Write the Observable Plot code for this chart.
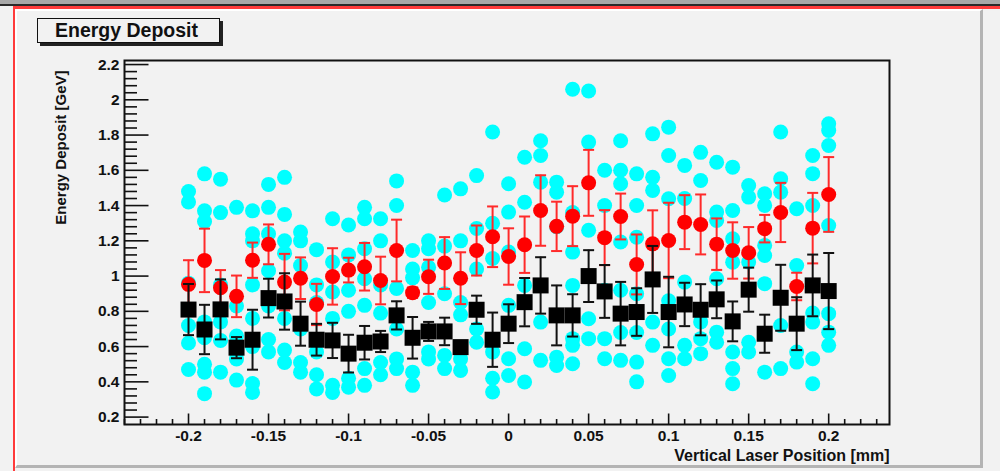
<!DOCTYPE html>
<html><head><meta charset="utf-8">
<script src="https://cdn.jsdelivr.net/npm/d3@7"></script>
<script src="https://cdn.jsdelivr.net/npm/@observablehq/plot@0.6"></script>
<style>
html,body{margin:0;padding:0;background:#f2f2f2;width:1000px;height:471px;overflow:hidden;font-family:"Liberation Sans",Arial,sans-serif;}
#topbar{position:absolute;left:0;top:0;width:1000px;height:4px;background:#a8a8a8;}
#topdark{position:absolute;left:0;top:4px;width:1000px;height:2px;background:#2a2a2a;}
#topred{position:absolute;left:13px;top:6px;width:987px;height:3px;background:#ff3b3b;}
#leftred{position:absolute;left:13px;top:6px;width:2px;height:465px;background:#ff3b3b;}
#panel{position:absolute;left:15px;top:9px;width:968px;height:459px;box-sizing:border-box;border-top:2px solid #fff;border-left:2px solid #fff;border-right:3px solid #b4b4b4;border-bottom:3px solid #b4b4b4;background:#f2f2f2;}
#chart{position:absolute;left:0;top:0;}
#title{position:absolute;left:37px;top:18px;width:164px;height:23px;border:1.5px solid #111;box-shadow:3px 3px 0 #222;background:#f2f2f2;font-weight:bold;font-size:19.5px;line-height:22px;padding-left:17px;box-sizing:content-box;color:#111;white-space:nowrap;}
</style></head>
<body>
<div id="topbar"></div><div id="topdark"></div><div id="topred"></div><div id="leftred"></div>
<div id="panel"></div>
<div id="chart"></div>
<div id="title">Energy Deposit</div>
<script>
const xPos = [-0.20,-0.19,-0.18,-0.17,-0.16,-0.15,-0.14,-0.13,-0.12,-0.11,-0.10,-0.09,-0.08,-0.07,-0.06,-0.05,-0.04,-0.03,-0.02,-0.01,0.00,0.01,0.02,0.03,0.04,0.05,0.06,0.07,0.08,0.09,0.10,0.11,0.12,0.13,0.14,0.15,0.16,0.17,0.18,0.19,0.20];
const blackY = [0.81,0.697,0.811,0.594,0.639,0.875,0.856,0.73,0.639,0.635,0.56,0.622,0.629,0.777,0.65,0.686,0.686,0.597,0.809,0.639,0.73,0.852,0.947,0.777,0.777,1.0,0.913,0.787,0.796,0.981,0.796,0.839,0.809,0.868,0.743,0.923,0.673,0.877,0.73,0.947,0.915];
const blackErr = [0.145,0.14,0.17,0.06,0.17,0.11,0.16,0.125,0.09,0.1,0.107,0.095,0.06,0.08,0.118,0.054,0.078,0.03,0.08,0.154,0.11,0.137,0.16,0.17,0.12,0.147,0.15,0.18,0.135,0.19,0.2,0.123,0.145,0.107,0.113,0.125,0.108,0.187,0.15,0.175,0.216];
const redY = [0.953,1.089,0.934,0.885,1.09,1.18,0.966,0.988,0.839,0.998,1.034,1.053,0.975,1.145,0.906,0.996,1.074,0.988,1.145,1.223,1.111,1.178,1.372,1.282,1.34,1.529,1.218,1.338,1.066,1.183,1.202,1.306,1.293,1.181,1.145,1.132,1.269,1.361,0.941,1.272,1.463];
const redErr = [0.137,0.18,0.1,0.118,0.1,0.113,0.16,0.118,0.117,0.16,0.07,0.135,0.135,0.175,0.03,0.097,0.147,0.147,0.142,0.172,0.16,0.16,0.2,0.14,0.17,0.187,0.156,0.13,0.17,0.19,0.214,0.153,0.17,0.146,0.16,0.146,0.078,0.168,0.078,0.2,0.212];
const cyanY = [
  [1.48,1.42,0.96,0.72,0.62,0.47],
  [1.58,1.37,1.31,0.74,0.65,0.50,0.455,0.333],
  [1.55,1.36,0.95,0.74,0.635,0.455],
  [1.39,0.83,0.66,0.53,0.41],
  [1.37,1.24,1.20,0.95,0.76,0.60,0.39,0.34],
  [1.52,1.39,1.24,1.03,0.83,0.64,0.57],
  [1.56,1.35,1.20,1.13,0.76,0.58,0.51],
  [1.25,1.20,1.06,0.70,0.51,0.455],
  [1.15,0.95,0.85,0.57,0.44,0.36],
  [1.325,1.08,0.91,0.76,0.38,0.34],
  [1.29,1.12,0.92,0.80,0.42,0.37],
  [1.39,1.325,1.155,0.985,0.834,0.475,0.38],
  [1.325,1.20,0.95,0.79,0.51,0.44],
  [1.54,1.40,0.93,0.70,0.53,0.475],
  [1.145,1.04,0.99,0.455,0.38],
  [1.20,1.155,1.05,0.85,0.57,0.53],
  [1.46,1.17,0.90,0.55,0.475],
  [1.495,1.20,0.85,0.78,0.53,0.465],
  [1.57,1.27,1.04,0.70,0.625],
  [1.817,1.30,1.10,0.57,0.42,0.342],
  [1.524,1.363,1.136,0.834,0.531,0.436],
  [1.674,1.419,0.947,0.588,0.399],
  [1.768,1.684,1.533,0.739,0.522],
  [1.533,1.476,1.28,0.54,0.493],
  [2.06,1.36,1.136,0.947,0.645,0.607,0.503],
  [2.05,1.76,1.26,0.758,0.645],
  [1.60,1.40,0.92,0.645,0.531],
  [1.768,1.60,1.524,1.193,0.92,0.68,0.522],
  [1.58,1.40,1.22,0.90,0.68,0.512,0.40],
  [1.807,1.56,1.486,0.739,0.607],
  [1.845,1.684,1.439,0.86,0.70,0.531,0.436],
  [1.628,1.44,0.966,0.607,0.531],
  [1.702,1.542,0.74,0.645,0.56],
  [1.646,1.363,1.316,0.985,0.682,0.625],
  [1.618,1.372,1.212,1.079,0.569,0.475,0.389],
  [1.514,1.448,1.08,0.625,0.569],
  [1.467,1.401,1.174,1.117,0.957,0.455],
  [1.817,1.552,1.476,0.72,0.475],
  [1.382,1.06,0.569,0.512],
  [1.684,1.581,1.40,0.79,0.739,0.531,0.389],
  [1.864,1.826,1.741,1.287,0.787,0.682,0.607]
];
const xTicks = [-0.2,-0.15,-0.1,-0.05,0,0.05,0.1,0.15,0.2];
const yTicks = [0.2,0.4,0.6,0.8,1,1.2,1.4,1.6,1.8,2,2.2];
const xMinor = d3.range(-24, 24).filter(k => k % 5 !== 0).map(k => k / 100);
const yMinor = d3.range(6, 55).filter(k => k % 5 !== 0).map(k => k * 0.04);
const xTitle = "Vertical Laser Position [mm]";
const yTitle = "Energy Deposit [GeV]";

const cyan = xPos.flatMap((x, i) => cyanY[i].map(y => ({x, y})));
const red = xPos.map((x, i) => ({x, y: redY[i], lo: redY[i] - redErr[i], hi: redY[i] + redErr[i]}));
const black = xPos.map((x, i) => ({x, y: blackY[i], lo: blackY[i] - blackErr[i], hi: blackY[i] + blackErr[i]}));

const rad = s => Math.sqrt(s / Math.PI);
const capSym = {draw(c, s) { const w = rad(s); c.moveTo(-w, 0); c.lineTo(w, 0); }};
const tickRight = {draw(c, s) { const w = rad(s); c.moveTo(0, 0); c.lineTo(w, 0); }};
const tickUp = {draw(c, s) { const w = rad(s); c.moveTo(0, 0); c.lineTo(0, -w); }};
const squareSym = {draw(c, s) { const w = rad(s); c.rect(-w, -w, 2 * w, 2 * w); }};

const font = "Liberation Sans, Arial, sans-serif";
const chart = Plot.plot({
  width: 1000, height: 471,
  marginLeft: 124, marginRight: 111, marginTop: 60, marginBottom: 47,
  x: {domain: [-0.24, 0.238]},
  y: {domain: [0.158, 2.223]},
  style: {background: "transparent", fontFamily: font, overflow: "visible"},
  marks: [
    Plot.dot(yTicks, {y: d => d, frameAnchor: "left", symbol: tickRight, r: 24, stroke: "#111", fill: "none", strokeWidth: 1.6}),
    Plot.dot(yMinor, {y: d => d, frameAnchor: "left", symbol: tickRight, r: 12.5, stroke: "#111", fill: "none", strokeWidth: 1.6}),
    Plot.dot(xTicks, {x: d => d, frameAnchor: "bottom", symbol: tickUp, r: 11, stroke: "#111", fill: "none", strokeWidth: 1.6}),
    Plot.dot(xMinor, {x: d => d, frameAnchor: "bottom", symbol: tickUp, r: 5.5, stroke: "#111", fill: "none", strokeWidth: 1.6}),
    Plot.dot(cyan, {x: "x", y: "y", r: 7.5, fill: "#00ffff", stroke: "none"}),
    Plot.ruleX(red, {x: "x", y1: "lo", y2: "hi", stroke: "#ff2a2a", strokeWidth: 2}),
    Plot.dot(red, {x: "x", y: "lo", symbol: capSym, r: 5.5, stroke: "#ff2a2a", fill: "none", strokeWidth: 2}),
    Plot.dot(red, {x: "x", y: "hi", symbol: capSym, r: 5.5, stroke: "#ff2a2a", fill: "none", strokeWidth: 2}),
    Plot.dot(red, {x: "x", y: "y", r: 7.5, fill: "#ff0000", stroke: "none"}),
    Plot.ruleX(black, {x: "x", y1: "lo", y2: "hi", stroke: "#111", strokeWidth: 2}),
    Plot.dot(black, {x: "x", y: "lo", symbol: capSym, r: 5.5, stroke: "#111", fill: "none", strokeWidth: 2}),
    Plot.dot(black, {x: "x", y: "hi", symbol: capSym, r: 5.5, stroke: "#111", fill: "none", strokeWidth: 2}),
    Plot.dot(black, {x: "x", y: "y", symbol: squareSym, r: 8, fill: "#000", stroke: "none"}),
    Plot.frame({stroke: "#111", strokeWidth: 2}),
    Plot.axisX(xTicks, {tickSize: 0, tickPadding: 5, tickFormat: d => String(d), fontSize: 15.5, fontWeight: "bold", fill: "#111", label: null}),
    Plot.axisY(yTicks, {tickSize: 0, tickPadding: 5, tickFormat: d => String(d), fontSize: 15.5, fontWeight: "bold", fill: "#111", label: null}),
    Plot.text([xTitle], {frameAnchor: "bottom-right", textAnchor: "end", lineAnchor: "middle", dy: 31, fontSize: 16, fontWeight: "bold", fill: "#111", text: d => d}),
    Plot.text([yTitle], {frameAnchor: "top-left", textAnchor: "end", lineAnchor: "middle", rotate: -90, dx: -63, dy: 10, fontSize: 15, fontWeight: "bold", fill: "#111", text: d => d})
  ]
});
document.getElementById("chart").appendChild(chart);
</script>
</body></html>
